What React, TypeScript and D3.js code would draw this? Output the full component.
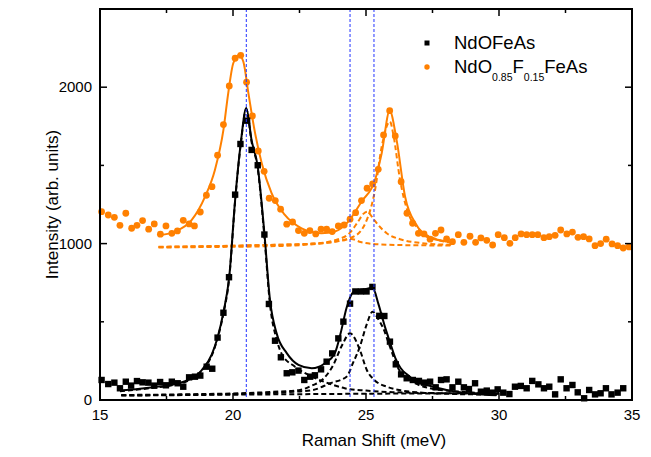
import React from "react";
import * as d3 from "d3";

// NdOFeAs (black squares)
const blackX = [15.06, 15.31, 15.54, 15.75, 15.97, 16.17, 16.39, 16.6, 16.82, 17.04, 17.26, 17.48, 17.7, 17.92, 18.13, 18.35, 18.57, 18.77, 19.01, 19.22, 19.42, 19.64, 19.85, 20.08, 20.28, 20.53, 20.7, 20.93, 21.18, 21.35, 21.58, 21.8, 22.02, 22.23, 22.46, 22.68, 22.9, 23.08, 23.31, 23.52, 23.73, 23.96, 24.15, 24.4, 24.6, 24.81, 25.02, 25.24, 25.5, 25.69, 25.9, 26.12, 26.32, 26.53, 26.76, 26.99, 27.18, 27.41, 27.62, 27.82, 28.03, 28.25, 28.47, 28.68, 28.87, 29.1, 29.32, 29.54, 29.75, 29.95, 30.16, 30.39, 30.6, 30.82, 31.04, 31.25, 31.48, 31.69, 31.89, 32.11, 32.32, 32.54, 32.76, 32.96, 33.2, 33.39, 33.61, 33.82, 34.02, 34.23, 34.46, 34.67];
const blackY = [128, 102, 111, 75, 117, 92, 121, 113, 111, 92, 115, 94, 117, 107, 85, 145, 149, 156, 213, 200, 399, 558, 785, 1313, 1637, 1786, 1599, 1501, 1058, 614, 379, 273, 171, 177, 188, 128, 149, 158, 196, 245, 298, 394, 501, 616, 694, 694, 694, 723, 538, 537, 373, 228, 164, 139, 128, 122, 111, 117, 81, 128, 132, 81, 117, 81, 70, 107, 53, 60, 47, 68, 47, 38, 85, 90, 75, 122, 100, 75, 85, 36, 132, 75, 96, 49, 11, 64, 36, 43, 75, 36, 47, 75];

// NdO0.85F0.15FeAs (orange circles)
const orangeX = [15.06, 15.31, 15.54, 15.75, 15.97, 16.19, 16.39, 16.6, 16.83, 17.04, 17.27, 17.48, 17.7, 17.91, 18.13, 18.35, 18.55, 18.77, 19.0, 19.21, 19.42, 19.64, 19.86, 20.08, 20.29, 20.51, 20.73, 20.95, 21.17, 21.36, 21.59, 21.79, 22.02, 22.24, 22.46, 22.68, 22.89, 23.11, 23.31, 23.52, 23.73, 23.96, 24.18, 24.4, 24.61, 24.83, 25.04, 25.25, 25.46, 25.66, 25.89, 26.1, 26.32, 26.54, 26.75, 26.97, 27.18, 27.41, 27.61, 27.82, 28.03, 28.25, 28.47, 28.68, 28.91, 29.12, 29.32, 29.54, 29.76, 29.97, 30.2, 30.41, 30.61, 30.83, 31.04, 31.25, 31.46, 31.69, 31.89, 32.11, 32.32, 32.55, 32.76, 32.97, 33.18, 33.39, 33.61, 33.82, 34.03, 34.25, 34.46, 34.67, 34.89];
const orangeY = [1204, 1183, 1168, 1117, 1194, 1098, 1117, 1147, 1092, 1126, 1060, 1113, 1066, 1081, 1149, 1126, 1113, 1202, 1309, 1364, 1565, 1761, 2008, 2185, 2204, 2032, 1816, 1592, 1462, 1290, 1275, 1220, 1124, 1138, 1083, 1066, 1083, 1062, 1092, 1092, 1077, 1113, 1119, 1156, 1198, 1275, 1354, 1381, 1475, 1695, 1850, 1688, 1396, 1194, 1130, 1066, 1062, 1028, 1066, 1087, 1030, 1012, 1057, 1008, 1047, 1008, 1036, 1021, 991, 1057, 1038, 1002, 1038, 1062, 1057, 1057, 1057, 1038, 1044, 1053, 1087, 1062, 1074, 1040, 1044, 1030, 987, 1000, 1028, 998, 987, 972, 979];

// fit curves
const blackFit: [number, number][] = [[15.75, 60], [16.5, 72], [17.0, 82], [17.7, 98], [18.32, 128], [18.82, 190], [19.2, 290], [19.42, 400], [19.64, 560], [19.86, 790], [20.08, 1280], [20.29, 1640], [20.5, 1867], [20.7, 1660], [20.93, 1492], [21.18, 1066], [21.39, 640], [21.64, 426], [22.02, 300], [22.46, 225], [22.96, 203], [23.46, 235], [23.83, 300], [24.05, 430], [24.27, 590], [24.52, 690], [24.8, 705], [25.05, 712], [25.25, 720], [25.46, 618], [25.71, 469], [25.9, 370], [26.1, 270], [26.3, 205], [26.65, 149], [26.9, 115], [27.28, 96], [28.03, 64], [29.03, 40], [29.9, 30]];
const blackBase: [number, number][] = [[15.8, 28], [20, 34], [25, 40], [30, 44]];
const blackPeak1: [number, number][] = [[15.75, 56], [16.5, 68], [17.0, 78], [17.7, 94], [18.32, 124], [18.82, 185], [19.2, 284], [19.42, 394], [19.64, 553], [19.86, 783], [20.08, 1272], [20.29, 1633], [20.5, 1858], [20.7, 1650], [20.93, 1480], [21.18, 1045], [21.39, 612], [21.64, 388], [21.83, 295], [22.33, 213], [22.96, 150], [23.58, 107], [24.2, 75], [25, 60], [26, 50], [28, 43], [30, 40]];
const blackPeak2: [number, number][] = [[15.8, 32], [18, 36], [20, 42], [21.5, 52], [22.52, 64], [23.0, 95], [23.27, 117], [23.77, 224], [24.1, 350], [24.4, 426], [24.77, 320], [25.03, 192], [25.3, 130], [25.78, 85], [26.3, 62], [27, 48], [28, 40], [29, 36], [30, 34]];
const blackPeak3: [number, number][] = [[15.8, 30], [20, 38], [22, 50], [23.0, 64], [23.65, 107], [24.27, 149], [24.52, 240], [24.77, 341], [25.02, 480], [25.25, 565], [25.45, 520], [25.65, 458], [25.9, 341], [26.21, 203], [26.65, 128], [27.41, 75], [28.4, 55], [30, 42]];

const orangeFit: [number, number][] = [[17.26, 1055], [17.82, 1077], [18.45, 1151], [18.95, 1300], [19.32, 1471], [19.64, 1727], [19.82, 1961], [20.01, 2153], [20.23, 2206], [20.39, 2163], [20.58, 1961], [20.83, 1706], [21.08, 1514], [21.45, 1322], [21.95, 1183], [22.58, 1098], [23.33, 1066], [23.83, 1077], [24.33, 1140], [24.83, 1268], [25.34, 1407], [25.59, 1578], [25.89, 1850], [26.15, 1663], [26.47, 1300], [26.9, 1119], [27.28, 1044], [28.16, 1012]];
const orangeBase: [number, number][] = [[17.2, 975], [19, 978], [21, 982], [22.5, 990], [23.5, 1005], [24.2, 1022], [24.45, 1030], [24.8, 1010], [25.5, 995], [26.5, 990], [28.2, 988]];
const orangePeak2: [number, number][] = [[17.2, 978], [21, 990], [23, 1000], [24.0, 1030], [24.4, 1070], [24.7, 1140], [24.9, 1190], [25.05, 1204], [25.25, 1165], [25.46, 1119], [25.78, 1066], [26.28, 1028], [27, 1005], [28.2, 992]];
const orangePeak3: [number, number][] = [[17.2, 980], [21, 990], [23.27, 1002], [24.52, 1044], [25.03, 1151], [25.34, 1343], [25.59, 1620], [25.9, 1780], [26.03, 1695], [26.28, 1407], [26.59, 1194], [27.03, 1087], [27.65, 1028], [28.2, 1005]];

const markerLines = [20.5, 24.4, 25.3];
const xTicks = [15, 20, 25, 30, 35];
const xMinor = [17.5, 22.5, 27.5, 32.5];
const yTicks = [0, 1000, 2000];
const yMinor = [500, 1500];

const BLACK = "#000";
const ORANGE = "#ff8000";
const FONT = "'Liberation Sans', Arial, sans-serif";

export default function App() {
  const left = 100, right = 632, top = 9, bottom = 400;
  const x = d3.scaleLinear().domain([15, 35]).range([left, right]);
  const y = d3.scaleLinear().domain([0, 2500]).range([bottom, top]);
  const line = d3
    .line<[number, number]>()
    .x((d) => x(d[0]))
    .y((d) => y(d[1]))
    .curve(d3.curveMonotoneX);

  const dashed = (pts: [number, number][], c: string, k: string) => (
    <path key={k} d={line(pts) || ""} fill="none" stroke={c} strokeWidth={2} strokeDasharray="5,3" />
  );

  return (
    <svg width={651} height={457} style={{ position: "absolute", left: 0, top: 0, background: "#fff" }} fontFamily={FONT}>
      {/* fits */}
      {dashed(blackBase, BLACK, "bb")}
      {dashed(blackPeak1, BLACK, "b1")}
      {dashed(blackPeak2, BLACK, "b2")}
      {dashed(blackPeak3, BLACK, "b3")}
      {dashed(orangeBase, ORANGE, "ob")}
      {dashed(orangePeak2, ORANGE, "o2")}
      {dashed(orangePeak3, ORANGE, "o3")}
      <path d={line(blackFit) || ""} fill="none" stroke={BLACK} strokeWidth={2} />
      <path d={line(orangeFit) || ""} fill="none" stroke={ORANGE} strokeWidth={2} />

      {/* data */}
      {orangeX.map((v, i) => (
        <circle key={"o" + i} cx={x(v)} cy={y(orangeY[i])} r={3.4} fill={ORANGE} />
      ))}
      {blackX.map((v, i) => (
        <rect key={"b" + i} x={x(v) - 3.2} y={y(blackY[i]) - 3.2} width={6.4} height={6.4} fill={BLACK} />
      ))}

      {/* guide lines */}
      {markerLines.map((v) => (
        <line key={v} x1={x(v)} x2={x(v)} y1={top} y2={bottom} stroke="#2233ff" strokeWidth={1} strokeDasharray="3,2" />
      ))}

      {/* frame and ticks */}
      <rect x={left} y={top} width={right - left} height={bottom - top} fill="none" stroke="#000" strokeWidth={2} />
      {xTicks.map((t) => (
        <g key={"xt" + t}>
          <line x1={x(t)} x2={x(t)} y1={bottom} y2={bottom - 7} stroke="#000" strokeWidth={1.5} />
          <line x1={x(t)} x2={x(t)} y1={top} y2={top + 7} stroke="#000" strokeWidth={1.5} />
          <text x={x(t)} y={420} textAnchor="middle" fontSize={15}>{t}</text>
        </g>
      ))}
      {xMinor.map((t) => (
        <g key={"xm" + t}>
          <line x1={x(t)} x2={x(t)} y1={bottom} y2={bottom - 4} stroke="#000" strokeWidth={1.5} />
          <line x1={x(t)} x2={x(t)} y1={top} y2={top + 4} stroke="#000" strokeWidth={1.5} />
        </g>
      ))}
      {yTicks.map((t) => (
        <g key={"yt" + t}>
          <line x1={left} x2={left + 7} y1={y(t)} y2={y(t)} stroke="#000" strokeWidth={1.5} />
          <line x1={right} x2={right - 7} y1={y(t)} y2={y(t)} stroke="#000" strokeWidth={1.5} />
          <text x={92} y={y(t) + 5} textAnchor="end" fontSize={15}>{t}</text>
        </g>
      ))}
      {yMinor.map((t) => (
        <g key={"ym" + t}>
          <line x1={left} x2={left + 4} y1={y(t)} y2={y(t)} stroke="#000" strokeWidth={1.5} />
          <line x1={right} x2={right - 4} y1={y(t)} y2={y(t)} stroke="#000" strokeWidth={1.5} />
        </g>
      ))}

      {/* axis titles */}
      <text x={374} y={446} textAnchor="middle" fontSize={17}>Raman Shift (meV)</text>
      <text transform={`translate(58,${(top + bottom) / 2}) rotate(-90)`} textAnchor="middle" fontSize={17}>
        Intensity (arb. units)
      </text>

      {/* legend */}
      <rect x={424.5} y={40.5} width={5} height={5} fill={BLACK} />
      <text x={454} y={49} fontSize={18.5}>NdOFeAs</text>
      <circle cx={427} cy={67} r={2.7} fill={ORANGE} />
      <text x={454} y={73} fontSize={18.5}>
        NdO<tspan fontSize={10.5} dy={8}>0.85</tspan>
        <tspan dy={-8}>F</tspan>
        <tspan fontSize={10.5} dy={8}>0.15</tspan>
        <tspan dy={-8}>FeAs</tspan>
      </text>
    </svg>
  );
}
